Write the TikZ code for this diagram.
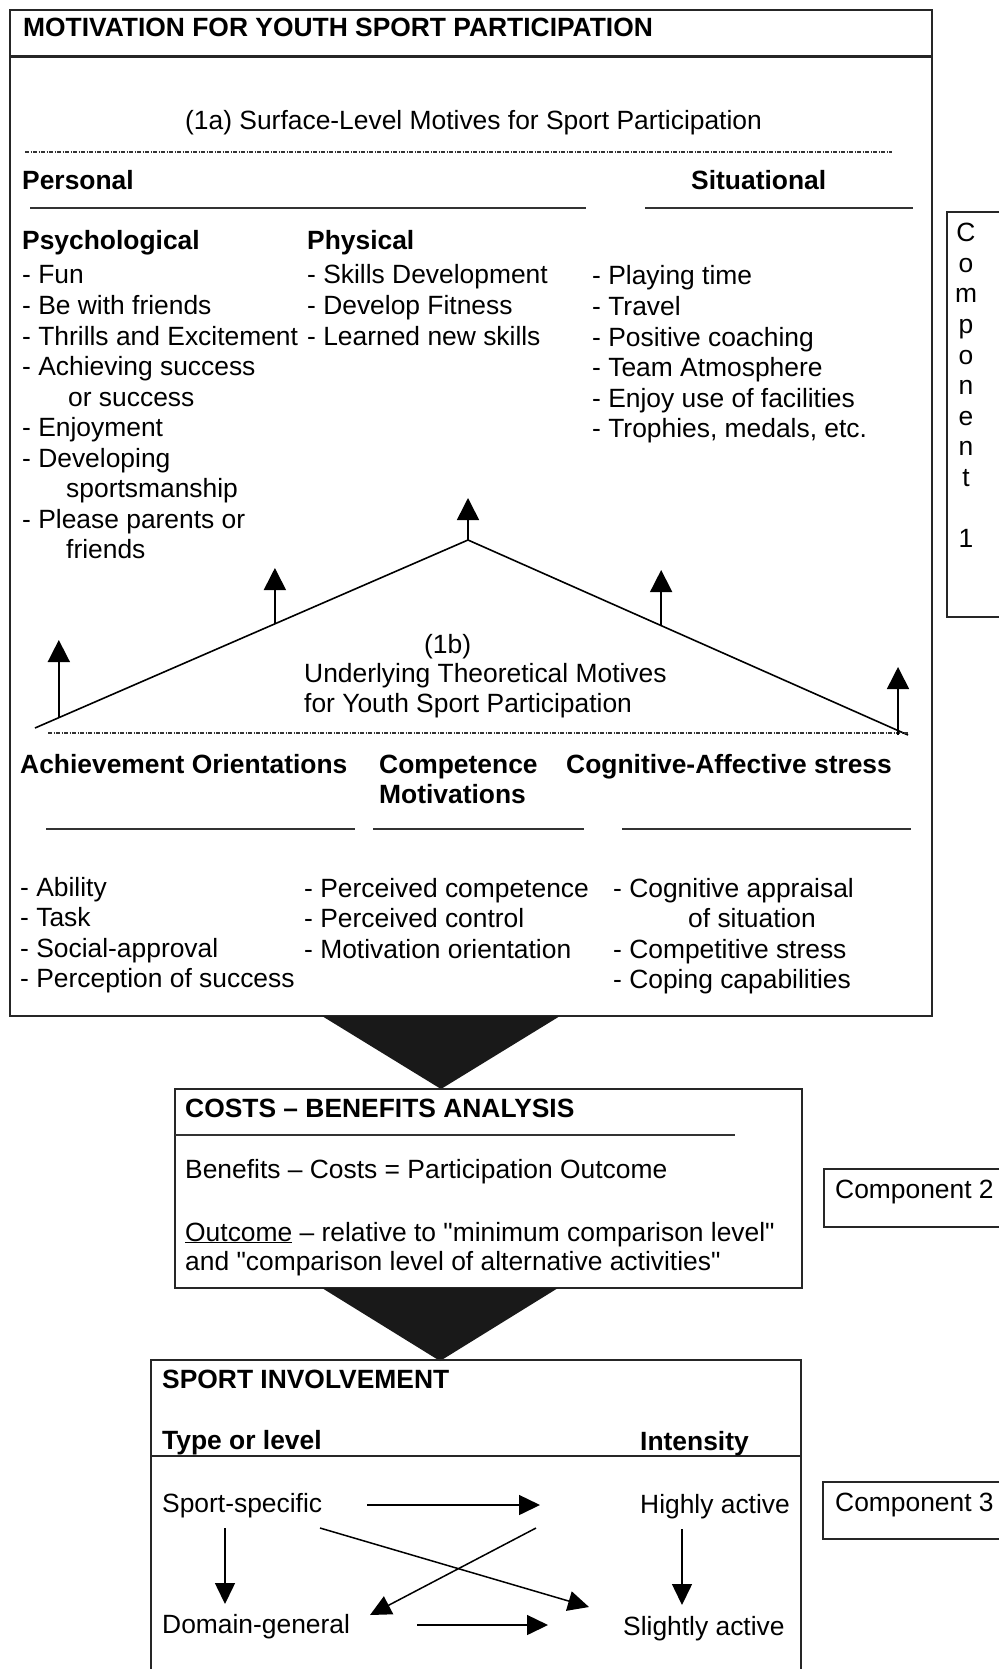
\documentclass[tikz,border=0pt]{standalone}
\usepackage{fontspec}
\setmainfont{Liberation Sans}
\usetikzlibrary{arrows.meta,calc}
\newcommand\bodysize{\fontsize{26.4pt}{30.5pt}\selectfont}
\newcommand\sq{\textquotedbl}
\begin{document}
\begin{tikzpicture}[x=1pt,y=-1pt,
  txt/.style={anchor=base west, inner sep=0pt, font=\bodysize},
  hd/.style={txt, font=\bodysize\bfseries},
  frame/.style={line width=1.8pt, draw=black!85},
  rule/.style={line width=1.6pt, draw=black!80},
  upar/.style={line width=1.6pt, -{Triangle[width=22pt,length=22pt]}},
  flow/.style={line width=1.5pt, -{Triangle[width=20pt,length=21pt]}},
  funnel/.style={fill=black!90, draw=none},
  dotline/.style={line width=1.3pt, draw=black!80, dash pattern=on 4pt off 1.5pt on 1pt off 1.5pt},
]
\useasboundingbox (0,0) rectangle (999,1669);

% ---------- Component 1 : motivation ----------
\draw[frame] (10,10) rectangle (932,1016);
\draw[line width=3pt, draw=black!85] (10,57) -- (932,57);
\node[hd] (title) at (23,37) {MOTIVATION FOR YOUTH SPORT PARTICIPATION};

\node[txt] (surface) at (185,130) {(1a) Surface-Level Motives for Sport Participation};
\draw[dotline] (25,152) -- (892,152);

\node[hd] (personal) at (22,190) {Personal};
\node[hd] (situational) at (691,190) {Situational};
\draw[rule] (30,208) -- (586,208);
\draw[rule] (645,208) -- (913,208);

\node[hd] (psych) at (22,250) {Psychological};
\node[hd] (phys) at (307,250) {Physical};

\node[txt] (p1) at (22,284) {- Fun};
\node[txt] (p2) at (22,314.5) {- Be with friends};
\node[txt] (p3) at (22,345) {- Thrills and Excitement};
\node[txt] (p4) at (22,375.5) {- Achieving success};
\node[txt] (p4b) at (68,406) {or success};
\node[txt] (p5) at (22,436.5) {- Enjoyment};
\node[txt] (p6) at (22,467) {- Developing};
\node[txt] (p6b) at (66,497.5) {sportsmanship};
\node[txt] (p7) at (22,528) {- Please parents or};
\node[txt] (p7b) at (66,558.5) {friends};

\node[txt] (f1) at (307,284) {- Skills Development};
\node[txt] (f2) at (307,314.5) {- Develop Fitness};
\node[txt] (f3) at (307,345) {- Learned new skills};

\node[txt] (s1) at (592,285) {- Playing time};
\node[txt] (s2) at (592,315.5) {- Travel};
\node[txt] (s3) at (592,346) {- Positive coaching};
\node[txt] (s4) at (592,376.5) {- Team Atmosphere};
\node[txt] (s5) at (592,407) {- Enjoy use of facilities};
\node[txt] (s6) at (592,437.5) {- Trophies, medals, etc.};

% roof linking the underlying motives to the surface motives
\coordinate (roofL) at (35,728);
\coordinate (roofT) at (468,540);
\coordinate (roofR) at (908,735);
\draw[line width=1.6pt] (roofL) -- (roofT) -- (roofR);
\draw[dotline] (48,733) -- (908,733);

\coordinate (aL) at ($(roofL)!0.055!(roofT)$);
\coordinate (aML) at ($(roofL)!0.554!(roofT)$);
\coordinate (aMR) at ($(roofT)!0.439!(roofR)$);
\coordinate (aR) at (898,735);
\draw[upar] (roofT) -- (468,498);
\draw[upar] (aML) -- (aML |- 0,568);
\draw[upar] (aMR) -- (aMR |- 0,570);
\draw[upar] (aL) -- (aL |- 0,640);
\draw[upar] (aR) -- (898,667);

\node[txt] (ub) at (424,653) {(1b)};
\node[txt] (ut1) at (304,682) {Underlying Theoretical Motives};
\node[txt] (ut2) at (304,712) {for Youth Sport Participation};

\node[hd] (ach) at (20,773) {Achievement Orientations};
\node[hd] (comp) at (379,773) {Competence};
\node[hd] (compb) at (379,803) {Motivations};
\node[hd] (cog) at (566,773) {Cognitive-Affective stress};
\draw[rule] (46,829) -- (355,829);
\draw[rule] (373,829) -- (584,829);
\draw[rule] (622,829) -- (911,829);

\node[txt] (a1) at (20,896) {- Ability};
\node[txt] (a2) at (20,926.5) {- Task};
\node[txt] (a3) at (20,957) {- Social-approval};
\node[txt] (a4) at (20,987.5) {- Perception of success};

\node[txt] (c1) at (304,897) {- Perceived competence};
\node[txt] (c2) at (304,927.5) {- Perceived control};
\node[txt] (c3) at (304,958) {- Motivation orientation};

\node[txt] (g1) at (613,897) {- Cognitive appraisal};
\node[txt] (g1b) at (688,927.5) {of situation};
\node[txt] (g2) at (613,958) {- Competitive stress};
\node[txt] (g3) at (613,988.5) {- Coping capabilities};

% side label, component 1
\draw[frame] (999,212) -- (947,212) -- (947,617) -- (999,617);
\foreach \ch [count=\i from 0] in {C,o,m,p,o,n,e,n,t}
  \node[txt, anchor=base] (cl\i) at (966,242+30.5*\i) {\ch};
\node[txt, anchor=base] (cnum) at (966,547) {1};

% ---------- funnel to component 2 ----------
\fill[funnel] (322,1016) -- (560,1016) -- (441,1089) -- cycle;

% ---------- Component 2 : costs-benefits ----------
\draw[frame] (175,1089) rectangle (802,1288);
\node[hd] (cba) at (185,1117) {COSTS -- BENEFITS ANALYSIS};
\draw[rule] (175,1135) -- (735,1135);
\node[txt] (eq) at (185,1178) {Benefits -- Costs = Participation Outcome};
\node[txt] (out1) at (185,1241) {\underline{Outcome} -- relative to \sq minimum comparison level\sq};
\node[txt] (out2) at (185,1270) {and \sq comparison level of alternative activities\sq};

\draw[frame] (999,1169) -- (824,1169) -- (824,1227) -- (999,1227);
\node[txt] (comp2) at (835,1198) {Component 2};

% ---------- funnel to component 3 ----------
\fill[funnel] (322,1288) -- (558,1288) -- (440,1361) -- cycle;

% ---------- Component 3 : sport involvement ----------
\draw[frame] (151,1669) -- (151,1360) -- (801,1360) -- (801,1669);
\draw[frame] (151,1456) -- (801,1456);
\node[hd] (inv) at (162,1388) {SPORT INVOLVEMENT};
\node[hd] (type) at (162,1449) {Type or level};
\node[hd] (intens) at (640,1450) {Intensity};

\node[txt] (sport) at (162,1512) {Sport-specific};
\node[txt] (high) at (640,1513) {Highly active};
\node[txt] (domain) at (162,1633) {Domain-general};
\node[txt] (slight) at (623,1635) {Slightly active};

\coordinate (h1s) at (367,1505);  \coordinate (h1e) at (540,1505);
\coordinate (h2s) at (417,1625);  \coordinate (h2e) at (548,1625);
\coordinate (d1s) at (225,1528);  \coordinate (d1e) at (225,1604);
\coordinate (d2s) at (682,1529);  \coordinate (d2e) at (682,1605);
\coordinate (x1s) at (320,1528);  \coordinate (x1e) at (589,1607);
\coordinate (x2s) at (536,1528);  \coordinate (x2e) at (370,1615);
\draw[flow] (h1s) -- (h1e);
\draw[flow] (h2s) -- (h2e);
\draw[flow] (d1s) -- (d1e);
\draw[flow] (d2s) -- (d2e);
\draw[flow] (x1s) -- (x1e);
\draw[flow] (x2s) -- (x2e);

\draw[frame] (999,1482) -- (823,1482) -- (823,1539) -- (999,1539);
\node[txt] (comp3) at (835,1511) {Component 3};
\end{tikzpicture}
\end{document}
